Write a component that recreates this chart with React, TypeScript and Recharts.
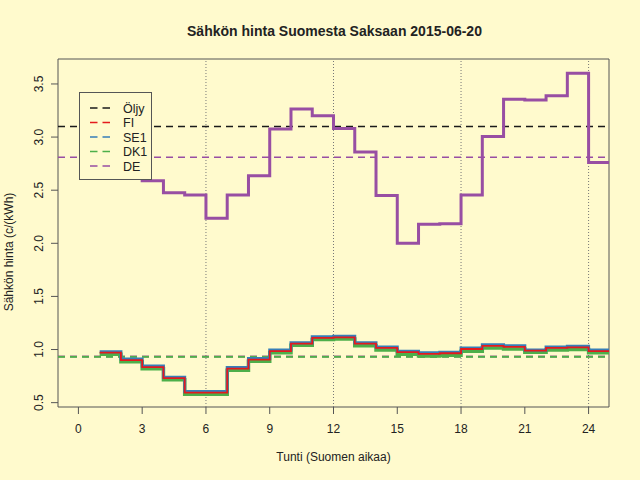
import React from 'react';
import {
  ComposedChart,
  Line,
  XAxis,
  YAxis,
  ReferenceLine,
  ReferenceArea
} from 'recharts';

// Hourly prices (c/kWh), hour h is the step from h to h+1
const hours = [1, 2, 3, 4, 5, 6, 7, 8, 9, 10, 11, 12, 13, 14, 15, 16, 17, 18, 19, 20, 21, 22, 23, 24];
const fiPrice = [0.97, 0.9, 0.835, 0.73, 0.595, 0.595, 0.82, 0.905, 0.985, 1.055, 1.11, 1.115, 1.055, 1.015, 0.975, 0.96, 0.965, 1.005, 1.035, 1.025, 0.99, 1.015, 1.02, 0.985];
const se1Price = [0.98, 0.91, 0.845, 0.74, 0.605, 0.605, 0.83, 0.915, 0.995, 1.065, 1.12, 1.125, 1.065, 1.025, 0.985, 0.97, 0.975, 1.015, 1.045, 1.035, 0.995, 1.025, 1.03, 0.995];
const dk1Price = [0.955, 0.885, 0.82, 0.715, 0.58, 0.58, 0.805, 0.89, 0.97, 1.04, 1.095, 1.1, 1.035, 0.995, 0.955, 0.94, 0.945, 0.985, 1.015, 1.005, 0.975, 0.995, 1.0, 0.97];
const dePrice = [3.25, 3.13, 2.59, 2.475, 2.455, 2.235, 2.455, 2.635, 3.075, 3.265, 3.2, 3.08, 2.86, 2.45, 2.0, 2.18, 2.185, 2.455, 3.005, 3.355, 3.35, 3.39, 3.6, 2.76];

// Daily averages (dashed lines)
const oilAverage = 3.1;
const fiAverage = 0.935;
const se1Average = 0.935;
const dk1Average = 0.93;
const deAverage = 2.81;

const xTicks = [0, 3, 6, 9, 12, 15, 18, 21, 24];
const yTicks = [0.5, 1.0, 1.5, 2.0, 2.5, 3.0, 3.5];
const dayMarks = [6, 12, 18, 24];
const xDomain = [-0.96, 24.96];
const yDomain = [0.459, 3.735];

const BG = '#FFFACD';
const INK = '#222';
const AXIS = '#555';
const FONT = '"Liberation Sans", Arial, Helvetica, sans-serif';

const colors = {
  oil: '#1a1a1a',
  fi: '#E41A1C',
  se1: '#377EB8',
  dk1: '#4DAF4A',
  de: '#984EA3'
};

const legendItems = [
  { name: 'Öljy', color: colors.oil },
  { name: 'FI', color: colors.fi },
  { name: 'SE1', color: colors.se1 },
  { name: 'DK1', color: colors.dk1 },
  { name: 'DE', color: colors.de }
];

// the step lines need a closing point one hour after the last value
const last = hours.length - 1;
const chartData = [
  ...hours.map((h, i) => ({
    hour: h,
    fi: fiPrice[i],
    se1: se1Price[i],
    dk1: dk1Price[i],
    de: dePrice[i]
  })),
  {
    hour: hours[last] + 1,
    fi: fiPrice[last],
    se1: se1Price[last],
    dk1: dk1Price[last],
    de: dePrice[last]
  }
];

const XTick = (props: any) => {
  const { x, y, payload } = props;
  return (
    <text x={x} y={y + 17} textAnchor="middle" fontSize={12} fill={INK} fontFamily={FONT}>
      {payload.value}
    </text>
  );
};

const YTick = (props: any) => {
  const { x, y, payload } = props;
  const bx = x - 5.5;
  return (
    <text
      x={bx}
      y={y}
      transform={`rotate(-90, ${bx}, ${y})`}
      textAnchor="middle"
      fontSize={12}
      fill={INK}
      fontFamily={FONT}
    >
      {Number(payload.value).toFixed(1)}
    </text>
  );
};

const XLabel = (props: any) => {
  const vb = props.viewBox;
  return (
    <text x={vb.x + vb.width / 2} y={vb.y + 54} textAnchor="middle" fontSize={12} fill={INK} fontFamily={FONT}>
      Tunti (Suomen aikaa)
    </text>
  );
};

const YLabel = (props: any) => {
  const vb = props.viewBox;
  const cy = vb.y + vb.height / 2 + 19;
  return (
    <text
      x={13}
      y={cy}
      transform={`rotate(-90, 13, ${cy})`}
      textAnchor="middle"
      fontSize={12}
      fill={INK}
      fontFamily={FONT}
    >
      Sähkön hinta (c/(kWh)
    </text>
  );
};

const LegendBox = () => (
  <div
    style={{
      position: 'absolute',
      left: 79,
      top: 92,
      width: 73,
      height: 88,
      boxSizing: 'border-box',
      border: `1px solid ${AXIS}`,
      background: BG
    }}
  >
    <svg width={71} height={86} style={{ display: 'block' }}>
      {legendItems.map((item, i) => {
        const cy = 15 + i * 14.5;
        return (
          <g key={item.name}>
            <line x1={10} x2={30} y1={cy} y2={cy} stroke={item.color} strokeWidth={1.6} strokeDasharray="7.5 5" />
            <text x={43} y={cy + 4.5} fontSize={12.5} fill={INK} fontFamily={FONT}>
              {item.name}
            </text>
          </g>
        );
      })}
    </svg>
  </div>
);

const App: React.FC = () => {
  return (
    <div style={{ position: 'absolute', left: 0, top: 0, width: 640, height: 480, background: BG }}>
      <ComposedChart
        width={640}
        height={480}
        data={chartData}
        margin={{ top: 59, right: 31, bottom: 0, left: 0 }}
      >
        <text x={334.5} y={35.5} textAnchor="middle" fontSize={14} fontWeight="bold" fill={INK} fontFamily={FONT}>
          Sähkön hinta Suomesta Saksaan 2015-06-20
        </text>
        <XAxis
          dataKey="hour"
          type="number"
          domain={xDomain}
          ticks={xTicks}
          interval={0}
          allowDataOverflow
          height={73}
          tickSize={7}
          axisLine={false}
          tickLine={{ stroke: AXIS }}
          tick={XTick}
          label={XLabel}
        />
        <YAxis
          type="number"
          domain={yDomain}
          ticks={yTicks}
          interval={0}
          allowDataOverflow
          width={58}
          tickSize={7}
          axisLine={false}
          tickLine={{ stroke: AXIS }}
          tick={YTick}
          label={YLabel}
        />
        {dayMarks.map(h => (
          <ReferenceLine key={h} x={h} stroke="#777" strokeWidth={1} strokeDasharray="1 2" />
        ))}
        <ReferenceLine y={oilAverage} stroke={colors.oil} strokeWidth={1.6} strokeDasharray="7 5" />
        <ReferenceLine y={fiAverage} stroke={colors.fi} strokeWidth={1.6} strokeDasharray="7 5" />
        <ReferenceLine y={se1Average} stroke={colors.se1} strokeWidth={1.6} strokeDasharray="7 5" />
        <ReferenceLine y={dk1Average} stroke={colors.dk1} strokeWidth={1.8} strokeDasharray="7 5" />
        <ReferenceLine y={deAverage} stroke={colors.de} strokeWidth={1.6} strokeDasharray="7 5" />
        <Line type="stepAfter" dataKey="dk1" stroke={colors.dk1} strokeWidth={3.5} dot={false} activeDot={false} isAnimationActive={false} />
        <Line type="stepAfter" dataKey="se1" stroke={colors.se1} strokeWidth={3} dot={false} activeDot={false} isAnimationActive={false} />
        <Line type="stepAfter" dataKey="fi" stroke={colors.fi} strokeWidth={1.8} dot={false} activeDot={false} isAnimationActive={false} />
        <Line type="stepAfter" dataKey="de" stroke={colors.de} strokeWidth={3} dot={false} activeDot={false} isAnimationActive={false} />
        <ReferenceArea x1={xDomain[0]} x2={xDomain[1]} y1={yDomain[0]} y2={yDomain[1]} fill="none" stroke={AXIS} strokeWidth={1} />
      </ComposedChart>
      <LegendBox />
    </div>
  );
};

export default App;
